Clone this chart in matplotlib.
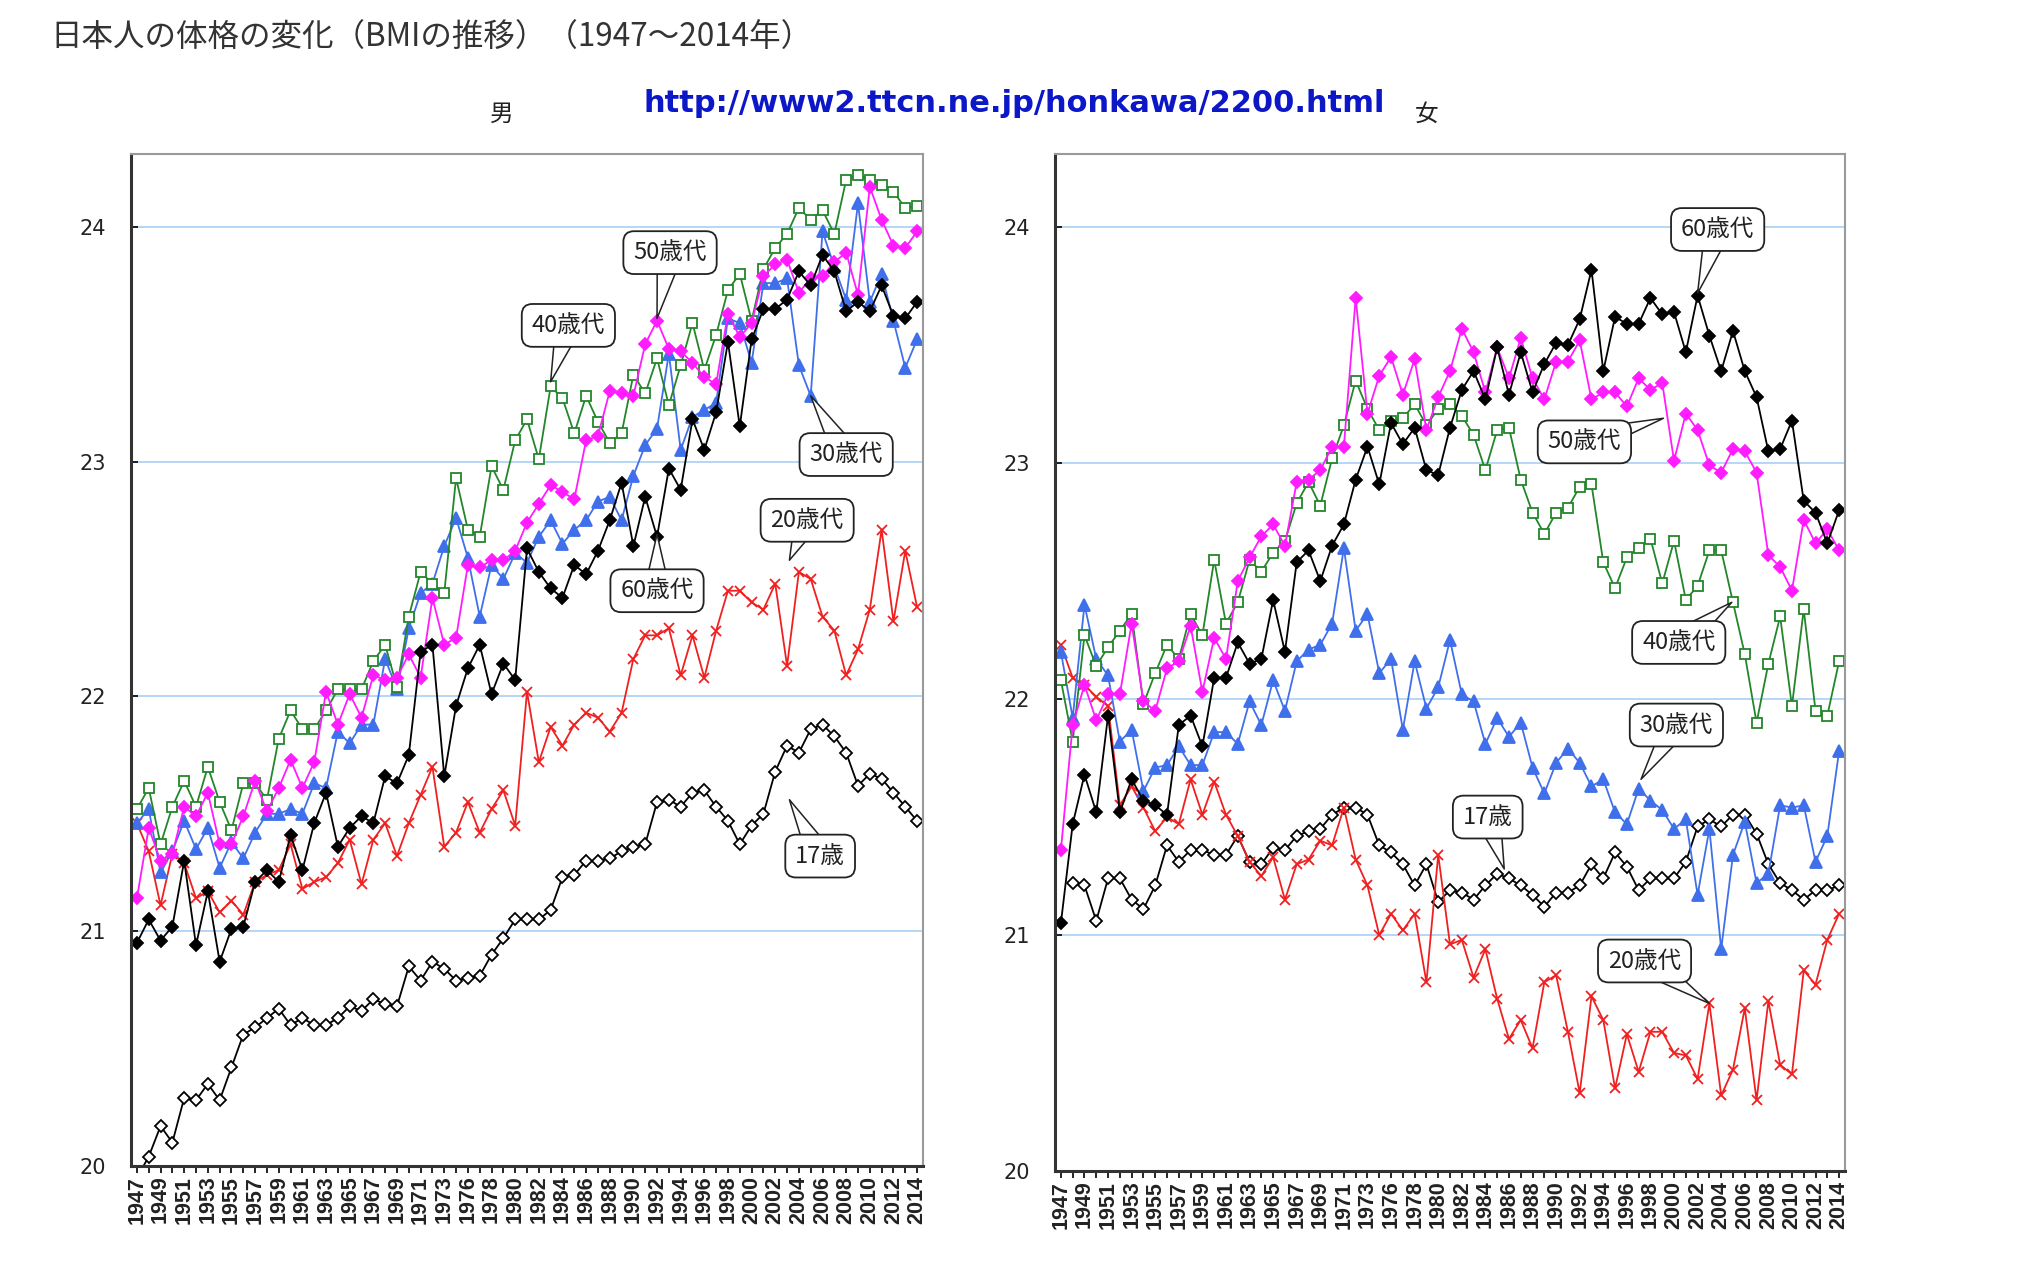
import numpy as np
import matplotlib
matplotlib.use('Agg')
import matplotlib.pyplot as plt

plt.rcParams['font.family'] = ['Noto Sans CJK JP', 'DejaVu Sans']

# years on the category axis (one survey year between 1973 and 1976)
years = list(range(1947, 1974)) + [1975] + list(range(1976, 2015))

# ---- male BMI by age group ----
m17 = [19.95, 20.04, 20.17, 20.10, 20.29, 20.28, 20.35, 20.28, 20.42, 20.56,
       20.59, 20.63, 20.67, 20.60, 20.63, 20.60, 20.60, 20.63, 20.68, 20.66,
       20.71, 20.69, 20.68, 20.85, 20.79, 20.87, 20.84, 20.79, 20.80, 20.81,
       20.90, 20.97, 21.05, 21.05, 21.05, 21.09, 21.23, 21.24, 21.30, 21.30,
       21.31, 21.34, 21.36, 21.37, 21.55, 21.56, 21.53, 21.59, 21.60, 21.53,
       21.47, 21.37, 21.45, 21.50, 21.68, 21.79, 21.76, 21.86, 21.88, 21.83,
       21.76, 21.62, 21.67, 21.65, 21.59, 21.53, 21.47]
m20 = [21.46, 21.34, 21.11, 21.33, 21.29, 21.14, 21.17, 21.08, 21.13, 21.07,
       21.21, 21.24, 21.26, 21.37, 21.18, 21.21, 21.23, 21.29, 21.39, 21.20,
       21.39, 21.46, 21.32, 21.46, 21.58, 21.70, 21.36, 21.42, 21.55, 21.42,
       21.52, 21.60, 21.45, 22.02, 21.72, 21.87, 21.79, 21.88, 21.93, 21.91,
       21.85, 21.93, 22.16, 22.26, 22.26, 22.29, 22.09, 22.26, 22.08, 22.28,
       22.45, 22.45, 22.40, 22.37, 22.48, 22.13, 22.53, 22.50, 22.34, 22.28,
       22.09, 22.20, 22.37, 22.71, 22.32, 22.62, 22.38]
m30 = [21.46, 21.52, 21.25, 21.34, 21.47, 21.35, 21.44, 21.27, 21.38, 21.31,
       21.42, 21.50, 21.50, 21.52, 21.50, 21.63, 21.61, 21.85, 21.80, 21.88,
       21.88, 22.16, 22.03, 22.29, 22.44, 22.48, 22.64, 22.76, 22.59, 22.34,
       22.56, 22.50, 22.61, 22.57, 22.68, 22.75, 22.65, 22.71, 22.75, 22.83,
       22.85, 22.75, 22.94, 23.07, 23.14, 23.46, 23.05, 23.19, 23.22, 23.25,
       23.61, 23.59, 23.42, 23.76, 23.76, 23.78, 23.41, 23.28, 23.98, 23.83,
       23.69, 24.10, 23.68, 23.80, 23.60, 23.40, 23.52]
m40 = [21.52, 21.61, 21.37, 21.53, 21.64, 21.53, 21.70, 21.55, 21.43, 21.63,
       21.63, 21.56, 21.82, 21.94, 21.86, 21.86, 21.94, 22.03, 22.03, 22.03,
       22.15, 22.22, 22.04, 22.34, 22.53, 22.48, 22.44, 22.93, 22.71, 22.68,
       22.98, 22.88, 23.09, 23.18, 23.01, 23.32, 23.27, 23.12, 23.28, 23.17,
       23.08, 23.12, 23.37, 23.29, 23.44, 23.24, 23.41, 23.59, 23.39, 23.54,
       23.73, 23.80, 23.60, 23.82, 23.91, 23.97, 24.08, 24.03, 24.07, 23.97,
       24.20, 24.22, 24.20, 24.18, 24.15, 24.08, 24.09]
m50 = [21.14, 21.44, 21.30, 21.33, 21.53, 21.49, 21.59, 21.37, 21.37, 21.49,
       21.64, 21.51, 21.61, 21.73, 21.61, 21.72, 22.02, 21.88, 22.01, 21.91,
       22.09, 22.07, 22.08, 22.18, 22.08, 22.42, 22.22, 22.25, 22.56, 22.55,
       22.58, 22.58, 22.62, 22.74, 22.82, 22.90, 22.87, 22.84, 23.09, 23.11,
       23.30, 23.29, 23.28, 23.50, 23.60, 23.48, 23.47, 23.42, 23.36, 23.33,
       23.63, 23.53, 23.59, 23.79, 23.84, 23.86, 23.72, 23.78, 23.79, 23.85,
       23.89, 23.71, 24.17, 24.03, 23.92, 23.91, 23.98]
m60 = [20.95, 21.05, 20.96, 21.02, 21.30, 20.94, 21.17, 20.87, 21.01, 21.02,
       21.21, 21.26, 21.21, 21.41, 21.26, 21.46, 21.59, 21.36, 21.44, 21.49,
       21.46, 21.66, 21.63, 21.75, 22.19, 22.22, 21.66, 21.96, 22.12, 22.22,
       22.01, 22.14, 22.07, 22.63, 22.53, 22.46, 22.42, 22.56, 22.52, 22.62,
       22.75, 22.91, 22.64, 22.85, 22.68, 22.97, 22.88, 23.18, 23.05, 23.21,
       23.51, 23.15, 23.52, 23.65, 23.65, 23.69, 23.81, 23.75, 23.88, 23.81,
       23.64, 23.68, 23.64, 23.75, 23.62, 23.61, 23.68]

# ---- female BMI by age group ----
f17 = [np.nan, 21.22, 21.21, 21.06, 21.24, 21.24, 21.15, 21.11, 21.21, 21.38,
       21.31, 21.36, 21.36, 21.34, 21.34, 21.42, 21.31, 21.30, 21.37, 21.36,
       21.42, 21.44, 21.45, 21.51, 21.54, 21.54, 21.51, 21.38, 21.35, 21.30,
       21.21, 21.30, 21.14, 21.19, 21.18, 21.15, 21.21, 21.26, 21.24, 21.21,
       21.17, 21.12, 21.18, 21.18, 21.21, 21.30, 21.24, 21.35, 21.29, 21.19,
       21.24, 21.24, 21.24, 21.31, 21.46, 21.49, 21.46, 21.51, 21.51, 21.43,
       21.30, 21.22, 21.19, 21.15, 21.19, 21.19, 21.21]
f20 = [22.23, 22.09, 22.06, 22.01, 21.97, 21.55, 21.63, 21.54, 21.44, 21.50,
       21.47, 21.66, 21.51, 21.65, 21.51, 21.42, 21.31, 21.25, 21.33, 21.15,
       21.30, 21.32, 21.40, 21.38, 21.54, 21.32, 21.21, 21.00, 21.09, 21.02,
       21.09, 20.80, 21.34, 20.96, 20.98, 20.82, 20.94, 20.73, 20.56, 20.64,
       20.52, 20.80, 20.83, 20.59, 20.33, 20.74, 20.64, 20.35, 20.58, 20.42,
       20.59, 20.59, 20.50, 20.49, 20.39, 20.71, 20.32, 20.43, 20.69, 20.30,
       20.72, 20.45, 20.41, 20.85, 20.79, 20.98, 21.09]
f30 = [22.20, 21.92, 22.40, 22.17, 22.10, 21.82, 21.87, 21.61, 21.71, 21.72,
       21.80, 21.72, 21.72, 21.86, 21.86, 21.81, 21.99, 21.89, 22.08, 21.95,
       22.16, 22.21, 22.23, 22.32, 22.64, 22.29, 22.36, 22.11, 22.17, 21.87,
       22.16, 21.96, 22.05, 22.25, 22.02, 21.99, 21.81, 21.92, 21.84, 21.90,
       21.71, 21.60, 21.73, 21.79, 21.73, 21.63, 21.66, 21.52, 21.47, 21.62,
       21.57, 21.53, 21.45, 21.49, 21.17, 21.45, 20.94, 21.34, 21.48, 21.22,
       21.26, 21.55, 21.54, 21.55, 21.31, 21.42, 21.78]
f40 = [22.08, 21.82, 22.27, 22.14, 22.22, 22.29, 22.36, 21.98, 22.11, 22.23,
       22.17, 22.36, 22.27, 22.59, 22.32, 22.41, 22.59, 22.54, 22.62, 22.67,
       22.83, 22.92, 22.82, 23.02, 23.16, 23.35, 23.23, 23.14, 23.18, 23.19,
       23.25, 23.16, 23.23, 23.25, 23.20, 23.12, 22.97, 23.14, 23.15, 22.93,
       22.79, 22.70, 22.79, 22.81, 22.90, 22.91, 22.58, 22.47, 22.60, 22.64,
       22.68, 22.49, 22.67, 22.42, 22.48, 22.63, 22.63, 22.41, 22.19, 21.90,
       22.15, 22.35, 21.97, 22.38, 21.95, 21.93, 22.16]
f50 = [21.36, 21.89, 22.06, 21.91, 22.02, 22.02, 22.32, 21.99, 21.95, 22.13,
       22.16, 22.31, 22.03, 22.26, 22.17, 22.50, 22.60, 22.69, 22.74, 22.65,
       22.92, 22.93, 22.97, 23.07, 23.07, 23.70, 23.21, 23.37, 23.45, 23.29,
       23.44, 23.14, 23.28, 23.39, 23.57, 23.47, 23.30, 23.49, 23.36, 23.53,
       23.36, 23.27, 23.43, 23.43, 23.52, 23.27, 23.30, 23.30, 23.24, 23.36,
       23.31, 23.34, 23.01, 23.21, 23.14, 22.99, 22.96, 23.06, 23.05, 22.96,
       22.61, 22.56, 22.46, 22.76, 22.66, 22.72, 22.63]
f60 = [21.05, 21.47, 21.68, 21.52, 21.93, 21.52, 21.66, 21.57, 21.55, 21.51,
       21.89, 21.93, 21.80, 22.09, 22.09, 22.24, 22.15, 22.17, 22.42, 22.20,
       22.58, 22.63, 22.50, 22.65, 22.74, 22.93, 23.07, 22.91, 23.17, 23.08,
       23.15, 22.97, 22.95, 23.15, 23.31, 23.39, 23.27, 23.49, 23.29, 23.47,
       23.30, 23.42, 23.51, 23.50, 23.61, 23.82, 23.39, 23.62, 23.59, 23.59,
       23.70, 23.63, 23.64, 23.47, 23.71, 23.54, 23.39, 23.56, 23.39, 23.28,
       23.05, 23.06, 23.18, 22.84, 22.79, 22.66, 22.80]

x = np.arange(len(years))

# style per age group: color, marker, face color, marker size
styles = {
    '17歳': ('black', 'D', 'white', 6.5),
    '20歳代': ('#f02020', 'x', '#f02020', 7),
    '30歳代': ('#3f6fea', '^', '#3f6fea', 8),
    '40歳代': ('#23862a', 's', 'white', 7),
    '50歳代': ('#ff1cff', 'D', '#ff1cff', 6.5),
    '60歳代': ('black', 'D', 'black', 6.5),
}

fig = plt.figure(figsize=(20.29, 12.76), dpi=100)
fig.patch.set_facecolor('white')

ax1 = fig.add_axes([131/2029, 1-1166/1276, 792/2029, (1166-154)/1276])
ax2 = fig.add_axes([1055/2029, 1-1171/1276, 790/2029, (1171-154)/1276])


def draw_panel(ax, series):
    for name, vals in series:
        c, m, fc, ms = styles[name]
        ax.plot(x, vals, color=c, lw=1.3, marker=m, markersize=ms,
                markerfacecolor=fc, markeredgecolor=c, markeredgewidth=1.3)
    ax.set_xlim(-0.5, len(years)-0.5)
    ax.set_ylim(20, 24.31)
    ax.set_yticks([20, 21, 22, 23, 24])
    ax.set_yticklabels(['20', '21', '22', '23', '24'], fontsize=15,
                       family='DejaVu Sans', color='#222')
    for v in [21, 22, 23, 24]:
        ax.axhline(v, color='#a9d0f5', lw=1.2, zorder=0)
    ax.set_xticks(x)
    ax.set_xticklabels([str(y) if k % 2 == 0 else '' for k, y in enumerate(years)],
                       rotation=90, fontsize=15.5, fontweight='bold',
                       family='Liberation Sans', color='#222')
    ax.tick_params(axis='x', direction='out', length=5, width=1.2, pad=2)
    ax.tick_params(axis='y', direction='in', length=5, width=1.2, pad=18)
    for s in ['top', 'right']:
        ax.spines[s].set_color('#9a9a9a')
        ax.spines[s].set_linewidth(1.5)
    for s in ['left', 'bottom']:
        ax.spines[s].set_color('#333333')
        ax.spines[s].set_linewidth(2.2)


def callout(ax, text, xytext, xy):
    ax.annotate(text, xy=xy, xytext=xytext, ha='center', va='center',
                fontsize=17, color='#222', zorder=10,
                bbox=dict(boxstyle='round,pad=0.42,rounding_size=0.45',
                          fc='white', ec='#222', lw=1.3),
                arrowprops=dict(arrowstyle='wedge,tail_width=1.1,shrink_factor=0.5',
                                fc='white', ec='#222', lw=1.1,
                                patchA=None, shrinkA=0, shrinkB=0))


draw_panel(ax1, [('17歳', m17), ('20歳代', m20), ('30歳代', m30),
                 ('40歳代', m40), ('50歳代', m50), ('60歳代', m60)])
draw_panel(ax2, [('17歳', f17), ('20歳代', f20), ('30歳代', f30),
                 ('40歳代', f40), ('50歳代', f50), ('60歳代', f60)])

# male callouts
callout(ax1, '50歳代', (45.1, 23.89), (44, 23.61))
callout(ax1, '40歳代', (36.5, 23.58), (35, 23.34))
callout(ax1, '30歳代', (60.0, 23.03), (57, 23.28))
callout(ax1, '20歳代', (56.7, 22.75), (55.2, 22.58))
callout(ax1, '60歳代', (44.0, 22.45), (44, 22.69))
callout(ax1, '17歳', (57.8, 21.32), (55.2, 21.56))

# female callouts
callout(ax2, '60歳代', (55.7, 23.99), (54, 23.72))
callout(ax2, '50歳代', (44.4, 23.09), (51.1, 23.19))
callout(ax2, '40歳代', (52.4, 22.24), (56.9, 22.41))
callout(ax2, '30歳代', (52.2, 21.89), (49.2, 21.66))
callout(ax2, '17歳', (36.2, 21.50), (37.6, 21.28))
callout(ax2, '20歳代', (49.5, 20.89), (55, 20.71))

fig.text(50/2029, 1-38/1276, '日本人の体格の変化（BMIの推移）（1947〜2014年）',
         fontsize=22.7, ha='left', va='center', color='#333')
fig.text(502/2029, 1-114/1276, '男', fontsize=17, ha='center', va='center', color='#222')
fig.text(1427/2029, 1-114/1276, '女', fontsize=17, ha='center', va='center', color='#222')
fig.text(1014/2029, 1-104/1276, 'http://www2.ttcn.ne.jp/honkawa/2200.html',
         fontsize=22, fontweight='bold', color='#0c18c8', ha='center', va='center',
         family='DejaVu Sans')

fig.savefig('out.png', dpi=100, facecolor='white')
